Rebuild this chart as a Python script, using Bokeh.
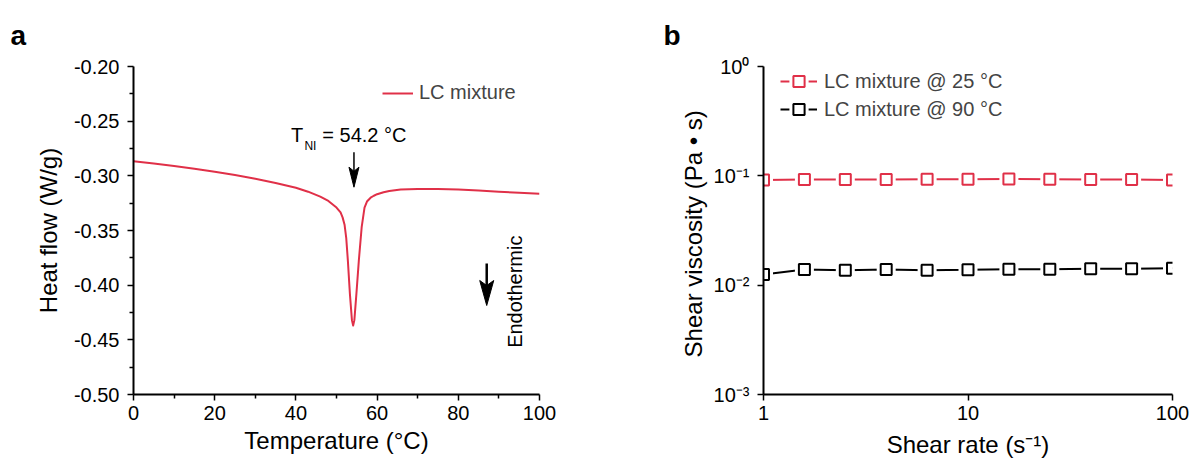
import numpy as np
from bokeh.plotting import figure
from bokeh.models import FixedTicker, PrintfTickFormatter, Legend, LegendItem, Title
from bokeh.layouts import row
from bokeh.embed import file_html
from bokeh.resources import INLINE
from bokeh.core.properties import value

# ---------------- Panel a : DSC ----------------
temperature = [0, 5, 10, 15, 20, 25, 30, 35, 40, 43, 46, 48, 50, 51, 51.5, 52, 52.4, 52.8, 53.3,
               53.8, 54.1, 54.4, 54.9, 55.5, 56.2, 56.9, 57.5, 58.4, 59.2, 60, 61.6, 63, 65.8,
               70, 75, 80, 85, 90, 95, 100]
heat_flow = [-0.2866, -0.2888, -0.2911, -0.2936, -0.2963, -0.2993, -0.3027, -0.3065, -0.3109,
             -0.3145, -0.3190, -0.3230, -0.3290, -0.3335, -0.3380, -0.3450, -0.3570, -0.3775,
             -0.4080, -0.4320, -0.4370, -0.4320, -0.4080, -0.3775, -0.3470, -0.3290, -0.3235,
             -0.3200, -0.3182, -0.3168, -0.3150, -0.3138, -0.3124, -0.3120, -0.3121, -0.3125,
             -0.3134, -0.3146, -0.3155, -0.3165]

a_x_ticks = [0, 20, 40, 60, 80, 100]
a_x_minor = [10, 30, 50, 70, 90]
a_y_ticks = [-0.50, -0.45, -0.40, -0.35, -0.30, -0.25, -0.20]
a_y_minor = [-0.475, -0.425, -0.375, -0.325, -0.275, -0.225]

# ---------------- Panel b : viscosity ----------------
shear_rate = [1, 1.585, 2.512, 3.981, 6.310, 10, 15.85, 25.12, 39.81, 63.10, 100]
visc_25C = [0.0915, 0.0925, 0.0925, 0.0925, 0.0930, 0.0930, 0.0935, 0.0930, 0.0925, 0.0925, 0.0915]
visc_90C = [0.0125, 0.0139, 0.0137, 0.0139, 0.0137, 0.0138, 0.0140, 0.0140, 0.0141, 0.0141, 0.0143]

b_x_ticks = [1, 10, 100]
b_x_tick_labels = ["1", "10", "100"]
b_y_ticks = [0.001, 0.01, 0.1, 1]
b_y_tick_labels = ["10\u207b\u00b3", "10\u207b\u00b2", "10\u207b\u00b9", "10\u2070"]

FONT = "Liberation Sans"
RED = "#e03048"


def style_axes(p, xl_standoff, yl_standoff):
    p.outline_line_color = None
    p.xgrid.visible = False
    p.ygrid.visible = False
    for ax in (p.xaxis[0], p.yaxis[0]):
        ax.axis_line_width = 2
        ax.major_tick_line_width = 1.5
        ax.minor_tick_line_width = 1.5
        ax.major_tick_in = 0
        ax.major_tick_out = 6
        ax.minor_tick_in = 0
        ax.minor_tick_out = 4
        ax.major_label_text_font = FONT
        ax.major_label_text_font_size = "20px"
        ax.major_label_text_color = "black"
        ax.axis_label_text_font = FONT
        ax.axis_label_text_font_size = "24px"
        ax.axis_label_text_font_style = "normal"
        ax.axis_label_text_color = "black"
    p.xaxis[0].major_label_standoff = 5
    p.yaxis[0].major_label_standoff = 8
    p.xaxis[0].axis_label_standoff = xl_standoff
    p.yaxis[0].axis_label_standoff = yl_standoff


def panel_letter(p, text, dx):
    p.add_layout(Title(text=text, align="left", offset=dx, vertical_align="top",
                       text_font=FONT, text_font_size="28px", text_font_style="bold",
                       text_color="black", standoff=28), "above")


# ================= Figure a =================
p1 = figure(width=596, height=461, x_range=(0, 100), y_range=(-0.50, -0.20),
            min_border_left=133, min_border_right=57, min_border_top=66, min_border_bottom=67,
            output_backend="svg", toolbar_location=None,
            x_axis_label="Temperature (\u00b0C)", y_axis_label="Heat flow (W/g)")
style_axes(p1, 4, 9)
p1.xaxis[0].ticker = FixedTicker(ticks=a_x_ticks, minor_ticks=a_x_minor)
p1.yaxis[0].ticker = FixedTicker(ticks=a_y_ticks, minor_ticks=a_y_minor)
p1.yaxis[0].formatter = PrintfTickFormatter(format="%.2f")

dsc = p1.line(temperature, heat_flow, line_color=RED, line_width=2, line_join="round")

leg1 = Legend(items=[LegendItem(label="LC mixture", renderers=[dsc])], location=(249, 290),
              border_line_color=None, background_fill_alpha=0, padding=0, margin=0, spacing=0,
              glyph_width=31, glyph_height=20, label_standoff=6,
              label_text_font=FONT, label_text_font_size="20px")
p1.add_layout(leg1)

# arrows (annotation) - pixel sizes converted through frame scale
XPP = 100 / 406
YPP = 0.30 / 328


def down_arrow(p, x, y_top, y_tip, head_len, head_w, shaft_w):
    base = y_tip + head_len * YPP
    notch = y_tip + 0.8 * head_len * YPP
    p.segment(x0=[x], y0=[y_top], x1=[x], y1=[y_tip + 0.6 * head_len * YPP],
              line_color="black", line_width=shaft_w)
    xs = [x, x + head_w / 2 * XPP, x, x - head_w / 2 * XPP]
    ys = [y_tip, base, notch, base]
    p.patch(xs, ys, fill_color="black", line_color="black", line_width=1)


down_arrow(p1, 54.3, -0.2784, -0.3104, 20, 10, 1.5)
down_arrow(p1, 87.0, -0.3802, -0.4186, 25, 14, 2.5)

p1.text(x=[38.8], y=[-0.2631], text=["T"], text_font=value(FONT), text_font_size="20px",
        text_align="left", text_baseline="middle", text_color="black")
p1.text(x=[42.1], y=[-0.2723], text=["NI"], text_font=value(FONT), text_font_size="12px",
        text_align="left", text_baseline="middle", text_color="black")
p1.text(x=[46.5], y=[-0.2631], text=["= 54.2 \u00b0C"], text_font=value(FONT), text_font_size="20px",
        text_align="left", text_baseline="middle", text_color="black")
p1.text(x=[94.0], y=[-0.406], text=["Endothermic"], angle=np.pi / 2, text_font=value(FONT),
        text_font_size="20px", text_align="center", text_baseline="middle", text_color="black")

panel_letter(p1, "a", -123)

# ================= Figure b =================
p2 = figure(width=596, height=461, x_axis_type="log", y_axis_type="log",
            x_range=(1, 100), y_range=(0.001, 1),
            min_border_left=167, min_border_right=20, min_border_top=66, min_border_bottom=67,
            output_backend="svg", toolbar_location=None,
            x_axis_label="Shear rate (s\u207b\u00b9)", y_axis_label="Shear viscosity  (Pa \u2022 s)")
style_axes(p2, 8, 4)
p2.xaxis[0].ticker = FixedTicker(ticks=b_x_ticks, minor_ticks=[])
p2.yaxis[0].ticker = FixedTicker(ticks=b_y_ticks, minor_ticks=[])
p2.xaxis[0].major_label_overrides = dict(zip(b_x_ticks, b_x_tick_labels))
p2.yaxis[0].major_label_overrides = dict(zip(b_y_ticks, b_y_tick_labels))

items = []
for vals, col, lab in ((visc_25C, RED, "LC mixture @ 25 \u00b0C"), (visc_90C, "black", "LC mixture @ 90 \u00b0C")):
    ln = p2.line(shear_rate, vals, line_color=col, line_width=2)
    wh = p2.scatter(shear_rate, vals, marker="square", size=11, fill_color="white",
                    line_color="white", line_width=8)
    mk = p2.scatter(shear_rate, vals, marker="square", size=11, fill_color="white",
                    line_color=col, line_width=2)
    items.append(LegendItem(label=lab, renderers=[ln, wh, mk]))

leg2 = Legend(items=items, location=(17, 271), border_line_color=None, background_fill_alpha=0,
              padding=0, margin=0, spacing=0, glyph_width=37, glyph_height=28, label_height=28,
              label_standoff=7, label_text_font=FONT, label_text_font_size="20px")
p2.add_layout(leg2)

panel_letter(p2, "b", -100)

layout = row(p1, p2)
open("out.html", "w").write(file_html(layout, INLINE))
